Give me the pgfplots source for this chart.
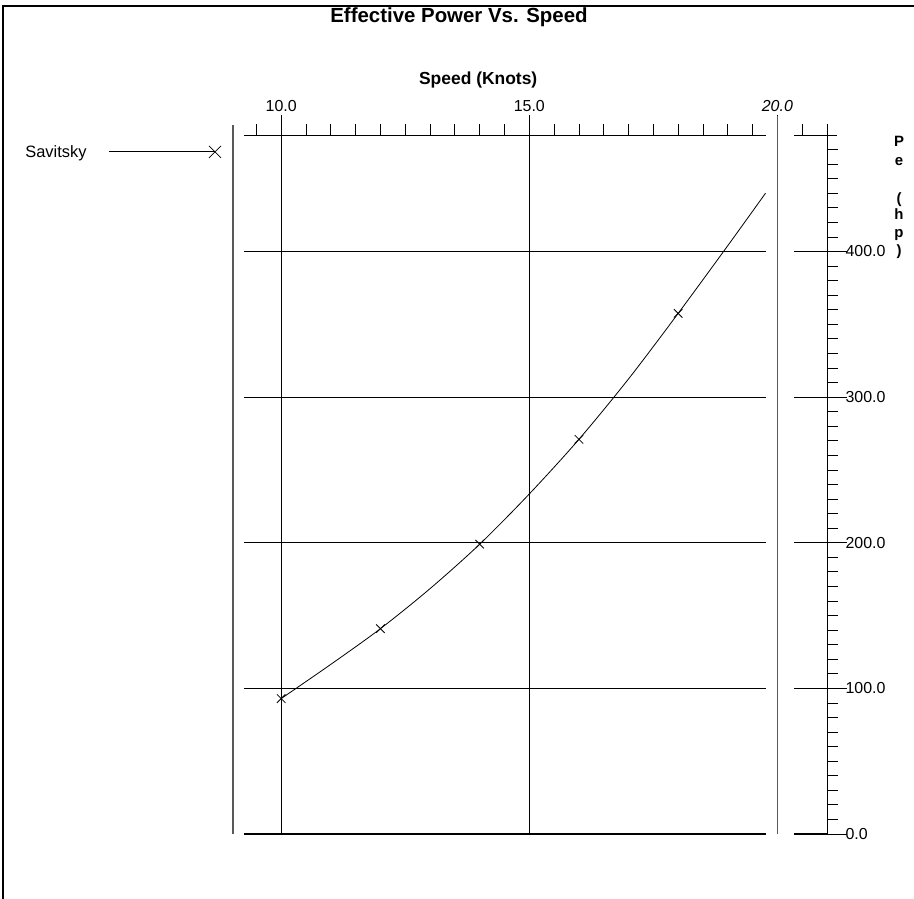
\documentclass[border=0pt]{standalone}
\usepackage{pgfplots}
\pgfplotsset{compat=1.18}
\usepackage{fontspec}
\setmainfont{Liberation Sans}
\begin{document}
\begin{tikzpicture}[x=1bp,y=1bp]
\useasboundingbox (0,0) rectangle (914,899);
% outer frame
\draw[line width=1.5bp] (3,0) -- (3,893) -- (914,893);
\node[anchor=north, font=\fontsize{20.5}{22}\selectfont\bfseries, inner sep=0pt] at (459,891) {Effective Power Vs. Speed};
\begin{axis}[
  scale only axis, width=583bp, height=699bp,
  at={(244bp,65bp)}, anchor=south west,
  xmin=9.25, xmax=21, ymin=0, ymax=480,
  clip=false,
  axis x line=top, axis y line=right,
  x axis line style={draw=none},
  y axis line style={-, line width=0.8bp},
  xtick={10,15,20}, xticklabels={10.0,15.0,\textit{20.0}},
  minor xtick={9.5,10,...,21},
  ytick={0,100,...,400},
  minor ytick={0,10,...,470},
  tick align=outside,
  major tick length=20bp, minor tick length=11bp,
  every tick/.style={black, line width=0.8bp},
  tick label style={font=\fontsize{16}{18}\selectfont},
  /pgf/number format/assume math mode=true,
  y tick label style={xshift=-5bp, /pgf/number format/fixed, /pgf/number format/fixed zerofill, /pgf/number format/precision=1},
  xmajorgrids,
  grid style={black, line width=0.8bp},
  legend plot pos=right,
  legend cell align=left,
  legend style={at={(axis cs:4.8,468.4)}, anchor=west, draw=none, fill=none, inner sep=0pt,
     font=\fontsize{16.5}{18}\selectfont, column sep=20bp},
]
% decorative frame / grid segments
\draw[line width=0.8bp] (axis cs:9.25,480) -- (axis cs:19.78,480);
\draw[line width=0.8bp] (axis cs:20.33,480) -- (axis cs:21.2,480);
\draw[line width=0.8bp] (axis cs:9.25,100) -- (axis cs:19.78,100);
\draw[line width=0.8bp] (axis cs:20.33,100) -- (axis cs:21,100);
\draw[line width=0.8bp] (axis cs:9.25,200) -- (axis cs:19.78,200);
\draw[line width=0.8bp] (axis cs:20.33,200) -- (axis cs:21,200);
\draw[line width=0.8bp] (axis cs:9.25,300) -- (axis cs:19.78,300);
\draw[line width=0.8bp] (axis cs:20.33,300) -- (axis cs:21,300);
\draw[line width=0.8bp] (axis cs:9.25,400) -- (axis cs:19.78,400);
\draw[line width=0.8bp] (axis cs:20.33,400) -- (axis cs:21,400);
\draw[line width=0.8bp] (axis cs:10,0) -- (axis cs:10,494);
\draw[line width=0.8bp] (axis cs:15,0) -- (axis cs:15,494);
\draw[line width=2.5bp] (axis cs:9.25,0) -- (axis cs:19.78,0);
\draw[line width=2.5bp] (axis cs:20.33,0) -- (axis cs:21,0);
\draw[line width=1.5bp, gray!70!black] (axis cs:9.03,0) -- (axis cs:9.03,487);
\draw[line width=1.5bp, gray!70!black] (axis cs:20,0) -- (axis cs:20,493);
\node[anchor=base, font=\fontsize{17.5}{19}\selectfont\bfseries] at (axis cs:13.97,514.4) {Speed (Knots)};
% data
\addplot[black, line width=0.8bp, smooth, no marks, forget plot] coordinates {
  (10,93) (11,116.5) (12,141) (13,168.5) (14,199) (15,233.5) (16,271) (17,312.5) (18,357.5) (19,404) (19.76,440)
};
\addplot[black, only marks, mark=x, mark size=6bp, mark options={line width=0.8bp}, forget plot] coordinates {
  (10,93) (12,141) (14,199) (16,271) (18,357.5)
};
\addlegendimage{legend image code/.code={
  \draw[black, line width=0.8bp] (0bp,0bp) -- (106bp,0bp);
  \draw[black, line width=0.8bp] (100bp,-6bp) -- (112bp,6bp) (100bp,6bp) -- (112bp,-6bp);}}
\addlegendentry{Savitsky}
\end{axis}
% y label, stacked letters
\begin{scope}[every node/.style={anchor=base, inner sep=0pt, font=\fontsize{15}{16}\selectfont\bfseries}]
\node at (899,752) {P};
\node at (899,733) {e};
\node at (899,695) {(};
\node at (899,679) {h};
\node at (899,661) {p};
\node at (899,643) {)};
\end{scope}
\end{tikzpicture}
\end{document}
